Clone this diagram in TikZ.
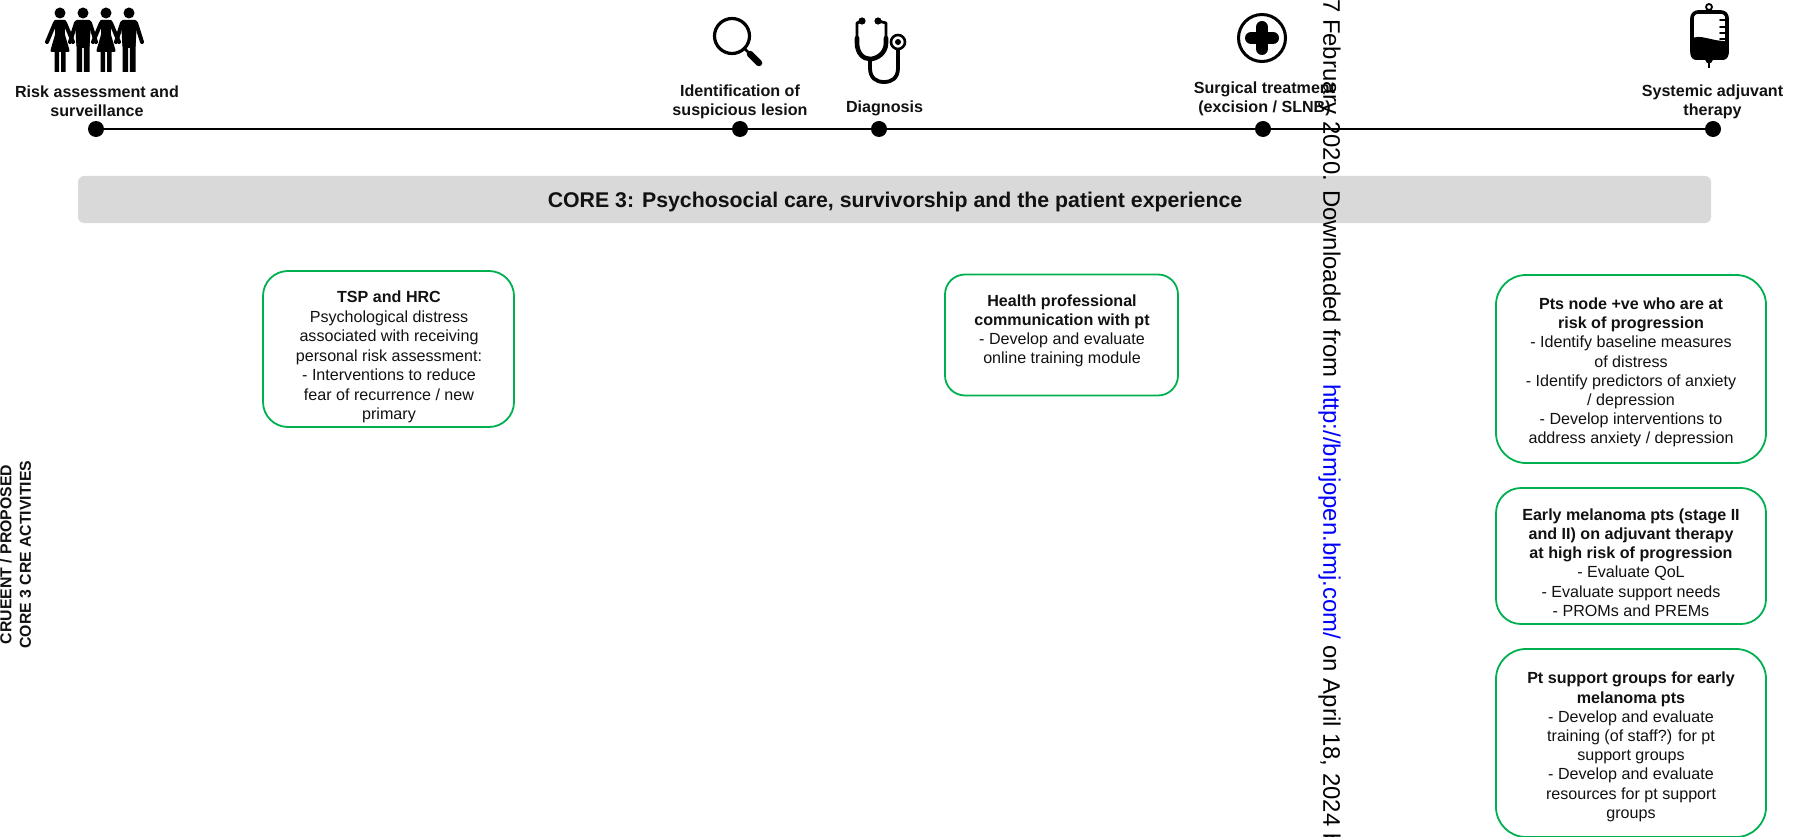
\documentclass[tikz,border=0pt]{standalone}
\usepackage{fontspec}
\setmainfont{Liberation Sans}
\definecolor{boxgreen}{HTML}{00B050}
\definecolor{bargrey}{HTML}{D9D9D9}
\definecolor{inktext}{HTML}{111111}
\tikzset{
  x=1pt,y=-1pt,
  dotnode/.style={circle,fill=black,draw=none,minimum size=16pt,inner sep=0pt},
  stagelabel/.style={align=center,inner sep=0pt,text=inktext,font=\fontsize{16.1}{19.3}\selectfont\bfseries},
  boxtext/.style={align=center,inner sep=0pt,text=inktext,font=\fontsize{16.1}{19.2}\selectfont},
  boxtextwide/.style={align=center,inner sep=0pt,text=inktext,font=\fontsize{16.1}{19.5}\selectfont},
  activitybox/.style={draw=boxgreen,line width=1.8pt,rounded corners=#1,inner sep=0pt},
  activitybox/.default=25pt,
  icon/.style={draw=black,line cap=round,line join=round},
  womanicon/.pic={
    \fill (0,13) circle (5.5);
    \draw[line width=4pt,line cap=round,line join=round] (-5,23)--(-13,42) (5,23)--(13,42);
    \fill[rounded corners=2pt] (-6.5,20)--(6.5,20)--(4.5,33)--(10,52)--(-10,52)--(-4.5,33)--cycle;
    \fill (-5.5,50) rectangle (-1,72) (1,50) rectangle (5.5,72);
  },
  manicon/.pic={
    \fill (0,13) circle (5.5);
    \draw[line width=4pt,line cap=round,line join=round] (-7,23)--(-13,42) (7,23)--(13,42);
    \fill[rounded corners=2pt] (-8,20)--(8,20)--(6.5,48)--(-6.5,48)--cycle;
    \fill (-6.5,44) rectangle (-0.8,72) (0.8,44) rectangle (6.5,72);
  },
}
\begin{document}
\begin{tikzpicture}
\useasboundingbox (0,0) rectangle (1803,837);

% timeline
\node[dotnode] (d1) at (96,129) {};
\node[dotnode] (d2) at (740,129) {};
\node[dotnode] (d3) at (879,129) {};
\node[dotnode] (d4) at (1263,129) {};
\node[dotnode] (d5) at (1713,129) {};
\draw[line width=1.6pt] (d1) -- (d2) -- (d3) -- (d4) -- (d5);

% stage labels
\node[stagelabel] (l1) at (97,101.5) {Risk assessment and\\surveillance};
\node[stagelabel] (l2) at (740,101.5) {Identification of\\suspicious lesion};
\node[stagelabel] (l3) at (884.5,108.5) {Diagnosis};
\node[stagelabel] (l4) at (1264.5,99) {Surgical treatment\\(excision / SLNB)};
\node[stagelabel] (l5) at (1712.5,101.5) {Systemic adjuvant\\therapy};

% people icon
\pic at (60,0) {womanicon};
\pic at (83,0) {manicon};
\pic at (106,0) {womanicon};
\pic at (129,0) {manicon};

% magnifier icon
\draw[icon,line width=3.2pt] (732,36) circle (17.5);
\draw[icon,line width=2.5pt] (745,49) -- (750,54);
\draw[icon,line width=6.5pt] (750,54) -- (759,63);

% stethoscope icon
\draw[icon,line width=2.8pt] (862,21) -- (857,23) -- (857,36);
\draw[icon,line width=2.8pt] (878,21) -- (886,23) -- (886,36);
\draw[icon,line width=4.6pt] (857,38) -- (857,43) .. controls (857,53) and (863,59) .. (870,59) .. controls (877,59) and (886,53) .. (886,43) -- (886,38);
\fill (862,21) circle (3.6) (878,21) circle (3.6);
\draw[icon,line width=3.8pt] (870,59) -- (870,68) .. controls (870,78) and (876,82) .. (884,82) .. controls (892,82) and (898,78) .. (898,68) -- (898,50);
\draw[line width=2.6pt] (898,42) circle (7);
\fill (898,42) circle (3);

% surgical cross icon
\draw[line width=3pt] (1262,38) circle (23.5);
\draw[line width=12pt,line cap=round] (1262,27) -- (1262,49) (1251,38) -- (1273,38);

% infusion bag icon
\draw[line width=1.8pt] (1709,7) circle (3);
\draw[icon,line width=3.6pt,rounded corners=6pt] (1692,12) rectangle (1727,58);
\fill (1691,39) .. controls (1700,33) and (1712,42) .. (1728,41) -- (1728,52) -- (1691,52) -- cycle;
\fill[rounded corners=6pt] (1690.5,45) rectangle (1728.5,60);
\draw[icon,line width=1.8pt] (1720,20) -- (1727,20) (1720,27) -- (1727,27) (1720,33) -- (1727,33) (1720,39) -- (1727,39);
\fill (1704,58) -- (1714,58) -- (1711,63) -- (1707,63) -- cycle;
\draw[line width=2.8pt] (1709,60) -- (1709,68);

% core bar
\node[fill=bargrey,rounded corners=6pt,minimum width=1633pt,minimum height=47pt,inner sep=0pt] (bar) at (894.5,199.5) {};
\node[inner sep=0pt,text=inktext,font=\fontsize{21.3}{25}\selectfont\bfseries] (bartext) at (895,201.5) {CORE 3: Psychosocial care, survivorship and the patient experience};

% side label
\node[rotate=90,align=center,inner sep=0pt,text=inktext,font=\fontsize{15.8}{19.5}\selectfont\bfseries] (side) at (15.5,554.5) {CRUEENT / PROPOSED\\CORE 3 CRE ACTIVITIES};

% activity boxes
\node[activitybox=25pt,minimum width=251pt,minimum height=156pt] (b1) at (388.5,349) {};
\node[boxtextwide] (t1) at (389,357) {\textbf{TSP and HRC}\\Psychological distress\\associated with receiving\\personal risk assessment:\\- Interventions to reduce\\fear of recurrence / new\\primary};

\node[activitybox=20pt,minimum width=233pt,minimum height=121pt] (b2) at (1061.5,335) {};
\node[boxtext] (t2) at (1062,331) {\textbf{Health professional}\\\textbf{communication with pt}\\- Develop and evaluate\\online training module};

\node[activitybox=30pt,minimum width=270pt,minimum height=188pt] (b3) at (1631,369) {};
\node[boxtext] (t3) at (1631,372.5) {\textbf{Pts node +ve who are at}\\\textbf{risk of progression}\\- Identify baseline measures\\of distress\\- Identify predictors of anxiety\\/ depression\\- Develop interventions to\\address anxiety / depression};

\node[activitybox=25pt,minimum width=270pt,minimum height=136pt] (b4) at (1631,556) {};
\node[boxtext] (t4) at (1631,562.5) {\textbf{Early melanoma pts (stage II}\\\textbf{and II) on adjuvant therapy}\\\textbf{at high risk of progression}\\- Evaluate QoL\\- Evaluate support needs\\- PROMs and PREMs};

\node[activitybox=30pt,minimum width=270pt,minimum height=188pt] (b5) at (1631,743) {};
\node[boxtext] (t5) at (1631,747) {\textbf{Pt support groups for early}\\\textbf{melanoma pts}\\- Develop and evaluate\\training (of staff?) for pt\\support groups\\- Develop and evaluate\\resources for pt support\\groups};

% watermark, printed over everything
\node[rotate=-90,anchor=west,inner sep=0pt,font=\fontsize{23.9}{28}\selectfont] (wm) at (1329.5,-1)
  {7 February 2020. Downloaded from \textcolor{blue}{http://bmjopen.bmj.com/} on April 18, 2024 b};
\end{tikzpicture}
\end{document}
